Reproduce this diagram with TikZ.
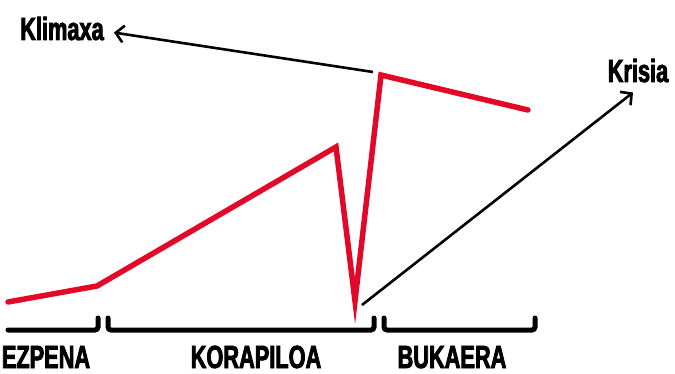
\documentclass[tikz,border=0pt]{standalone}
\usepackage{fontspec}
\newfontfamily\posterfont[FakeStretch=0.68,FakeBold=2.5]{Liberation Sans}
\usetikzlibrary{arrows.meta,calc}
\definecolor{plotred}{RGB}{226,8,40}

\begin{document}
\begin{tikzpicture}[x=1pt, y=-1pt,
    lbl/.style={font=\posterfont\bfseries\fontsize{32}{32}\selectfont, inner sep=0pt},
    pointer/.style={line width=2.6pt, -{Straight Barb[length=8pt,width=17pt,line width=2.6pt]}},
    bar/.style={line width=5pt, line cap=round, rounded corners=3pt}]
  \useasboundingbox (0,0) rectangle (675,374);
  % plot line
  \coordinate (p0) at (8,302);
  \coordinate (p1) at (97,286);
  \coordinate (p2) at (336,147);
  \coordinate (p3) at (355,301);
  \coordinate (p4) at (381,75);
  \coordinate (p5) at (528,110);
  \draw[plotred, line width=5.5pt, line join=miter, line cap=round] (p0) -- (p1) -- (p2) -- (p3) -- (p4) -- (p5);
  % labels
  \node[lbl, anchor=base] (klimaxa) at (62,40) {Klimaxa};
  \node[lbl, anchor=base] (krisia) at (638,82) {Krisia};
  \node[lbl, anchor=base] (ezpena) at (46,368) {EZPENA};
  \node[lbl, anchor=base] (korapiloa) at (256,368) {KORAPILOA};
  \node[lbl, anchor=base] (bukaera) at (452,368) {BUKAERA};
  % arrows
  \coordinate (k0) at (373,72);
  \coordinate (c0) at (362,305);
  \draw[pointer] (k0) -- ($(klimaxa.east)+(10,4)$);
  \draw[pointer] (c0) -- ($(krisia.south)+(-5,10)$);
  % brackets  y=330
  \draw[bar] (8,330) -- (98,330) -- (98,318);
  \draw[bar] (108,318) -- (108,330) -- (374,330) -- (374,318);
  \draw[bar] (384,318) -- (384,330) -- (535,330) -- (535,318);
\end{tikzpicture}
\end{document}
